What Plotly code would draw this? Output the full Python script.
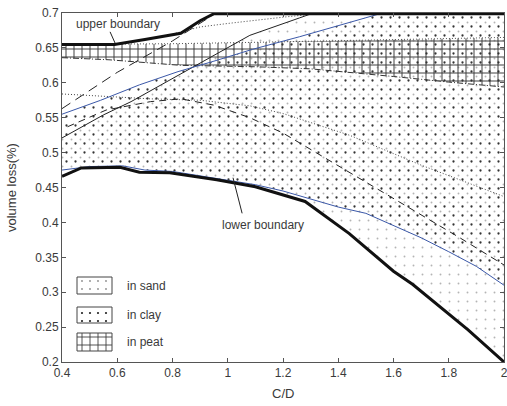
import plotly.graph_objects as go

# ---------------- data ----------------
lower_x = [0.4, 0.47, 0.61, 0.68, 0.79, 0.96, 1.1, 1.28, 1.44, 1.6, 1.67, 1.87, 2.0]
lower_y = [0.466, 0.478, 0.479, 0.472, 0.471, 0.461, 0.451, 0.43, 0.384, 0.33, 0.311, 0.246, 0.2]

upper_x = [0.4, 0.59, 0.7, 0.83, 0.9, 0.95, 2.0]
upper_y = [0.655, 0.655, 0.662, 0.671, 0.689, 0.699, 0.699]

sand_max_x = [0.4, 0.55, 0.65, 0.9, 1.08, 1.26, 1.31, 2.0]
sand_max_y = [0.521, 0.554, 0.573, 0.628, 0.668, 0.693, 0.7, 0.7]

clay_min_x = [0.4, 0.5, 0.62, 0.7, 0.8, 0.95, 1.1, 1.2, 1.3, 1.4, 1.5, 1.6, 1.7, 1.8, 1.9, 2.0]
clay_min_y = [0.475, 0.48, 0.481, 0.475, 0.473, 0.464, 0.454, 0.445, 0.434, 0.422, 0.413, 0.395, 0.378, 0.358, 0.337, 0.31]

clay_max_x = [0.4, 0.54, 0.68, 0.82, 0.95, 1.09, 1.26, 1.44, 1.56, 2.0]
clay_max_y = [0.555, 0.575, 0.597, 0.616, 0.631, 0.648, 0.666, 0.687, 0.7, 0.7]

peat_min_x = [0.4, 0.57, 0.83, 1.1, 1.3, 1.45, 1.6, 1.8, 2.0]
peat_min_y = [0.636, 0.633, 0.625, 0.623, 0.62, 0.615, 0.609, 0.601, 0.594]
peat_max_x = [0.4, 0.8, 1.1, 1.5, 2.0]
peat_max_y = [0.655, 0.656, 0.658, 0.661, 0.665]

longdash_x = [0.4, 0.6, 0.8, 0.95]
longdash_y = [0.563, 0.615, 0.66, 0.698]

dash_x = [0.42, 0.56, 0.72, 0.83, 0.95, 1.08, 1.2, 1.44, 1.6, 1.84, 2.0]
dash_y = [0.537, 0.561, 0.573, 0.577, 0.568, 0.55, 0.528, 0.472, 0.434, 0.378, 0.339]

dot_x = [0.4, 0.57, 0.72, 0.9, 1.08, 1.2, 1.44, 1.7, 2.0]
dot_y = [0.584, 0.58, 0.577, 0.575, 0.567, 0.556, 0.525, 0.482, 0.437]

topdot_x = [0.78, 0.9, 1.0, 1.1, 1.2, 1.3, 1.4]
topdot_y = [0.668, 0.68, 0.685, 0.69, 0.694, 0.698, 0.7]

x_tick_vals = [0.4, 0.6, 0.8, 1.0, 1.2, 1.4, 1.6, 1.8, 2.0]
x_tick_text = ["0.4", "0.6", "0.8", "1", "1.2", "1.4", "1.6", "1.8", "2"]
y_tick_vals = [0.2, 0.25, 0.3, 0.35, 0.4, 0.45, 0.5, 0.55, 0.6, 0.65, 0.7]
y_tick_text = ["0.2", "0.25", "0.3", "0.35", "0.4", "0.45", "0.5", "0.55", "0.6", "0.65", "0.7"]

legend_labels = ["in sand", "in clay", "in peat"]

# ---------------- layout geometry ----------------
W, H = 507, 406
ML, MR, MT, MB = 58, 3, 9, 44
GW, GH = W - ML - MR, H - MT - MB
SHIFT = 4  # pattern offset (px) between sand and clay dots
PX_X = (GW - SHIFT) / 1.6
PX_Y = (GH - SHIFT) / 0.5

FONT = "Liberation Sans"
TXT = "#3a3a3a"
AX = "#555555"
BLUE = "#3b58a8"

fig = go.Figure()

# sand band (own subplot so its dot grid is offset from clay dots)
fig.add_trace(go.Scatter(
    x=lower_x + sand_max_x[::-1], y=lower_y + sand_max_y[::-1],
    fill="toself", mode="none", fillcolor="rgba(0,0,0,0)",
    fillpattern=dict(shape=".", size=9, solidity=0.035, fgcolor="#b4b4b4",
                     bgcolor="rgba(0,0,0,0)", fillmode="replace"),
    xaxis="x", yaxis="y", hoverinfo="skip", showlegend=False))

# clay band
fig.add_trace(go.Scatter(
    x=clay_min_x + clay_max_x[::-1], y=clay_min_y + clay_max_y[::-1],
    fill="toself", mode="none", fillcolor="rgba(0,0,0,0)",
    fillpattern=dict(shape=".", size=9, solidity=0.05, fgcolor="#333333",
                     bgcolor="rgba(0,0,0,0)", fillmode="replace"),
    xaxis="x2", yaxis="y2", hoverinfo="skip", showlegend=False))

# peat band
fig.add_trace(go.Scatter(
    x=peat_min_x + peat_max_x[::-1], y=peat_min_y + peat_max_y[::-1],
    fill="toself", mode="none", fillcolor="rgba(0,0,0,0)",
    fillpattern=dict(shape="+", size=8, solidity=0.22, fgcolor="#333333",
                     bgcolor="rgba(0,0,0,0)", fillmode="replace"),
    xaxis="x2", yaxis="y2", hoverinfo="skip", showlegend=False))


def line(x, y, color="#222222", width=1, dash="solid"):
    fig.add_trace(go.Scatter(x=x, y=y, mode="lines",
                             line=dict(color=color, width=width, dash=dash),
                             xaxis="x2", yaxis="y2", hoverinfo="skip",
                             showlegend=False))


line(peat_min_x, peat_min_y, "#333333", 1, "6px,2px,1px,2px")
line(peat_max_x, peat_max_y, "#555555", 1, "1px,2px")
line(dot_x, dot_y, "#444444", 1, "1px,2px")
line(topdot_x, topdot_y, "#444444", 1, "1px,2px")
line(dash_x, dash_y, "#222222", 1, "7px,5px")
line(longdash_x, longdash_y, "#222222", 1, "10px,6px")
line(sand_max_x, sand_max_y, "#222222", 1)
line(clay_max_x, clay_max_y, BLUE, 1)
line(clay_min_x, clay_min_y, BLUE, 1)
line(lower_x, lower_y, "#111111", 3)
line(upper_x, upper_y, "#111111", 3)

# ---------------- legend boxes (pixel coordinate overlay) ----------------
box_x0, box_x1 = 77, 112
box_rows = [(277, 294), (307, 323), (333, 351)]
box_patterns = [
    dict(shape=".", size=8, solidity=0.04, fgcolor="#8a8a8a"),
    dict(shape=".", size=8, solidity=0.06, fgcolor="#222222"),
    dict(shape="+", size=8, solidity=0.2, fgcolor="#333333"),
]
for (y0, y1), pat, lab in zip(box_rows, box_patterns, legend_labels):
    pat = dict(pat, bgcolor="rgba(0,0,0,0)", fillmode="replace")
    fig.add_trace(go.Scatter(
        x=[box_x0, box_x1, box_x1, box_x0, box_x0],
        y=[y0, y0, y1, y1, y0],
        fill="toself", mode="lines", fillcolor="rgba(0,0,0,0)",
        fillpattern=pat, line=dict(color="#444444", width=1),
        xaxis="x3", yaxis="y3", hoverinfo="skip", showlegend=False))
    fig.add_annotation(x=125, y=(y0 + y1) / 2, xref="x3", yref="y3",
                       text=lab, showarrow=False, xanchor="left",
                       font=dict(family=FONT, size=12, color=TXT))

# ---------------- annotations ----------------
fig.add_annotation(x=0.603, y=0.684, xref="x2", yref="y2", text="upper boundary",
                   showarrow=False, font=dict(family=FONT, size=12, color=TXT))
fig.add_annotation(x=1.128, y=0.396, xref="x2", yref="y2", text="lower boundary",
                   showarrow=False, font=dict(family=FONT, size=12, color=TXT))
fig.add_shape(type="line", xref="x2", yref="y2", x0=0.574, y0=0.673, x1=0.592, y1=0.657,
              line=dict(color="#222222", width=1))
fig.add_shape(type="line", xref="x2", yref="y2", x0=1.019, y0=0.464, x1=1.052, y1=0.413,
              line=dict(color="#222222", width=1))

# axis titles as paper-positioned text
fig.add_annotation(x=(283 - ML) / GW, y=(H - MB - 393) / GH, xref="paper", yref="paper",
                   text="C/D", showarrow=False, xanchor="center", yanchor="middle",
                   font=dict(family=FONT, size=13, color=TXT))
fig.add_annotation(x=(12 - ML) / GW, y=(H - MB - 188) / GH, xref="paper", yref="paper",
                   text="volume loss(%)", showarrow=False, textangle=-90,
                   xanchor="center", yanchor="middle",
                   font=dict(family=FONT, size=13, color=TXT))

main_xdom = [SHIFT / GW, 1]
main_ydom = [0, (GH - SHIFT) / GH]

fig.update_layout(
    width=W, height=H,
    margin=dict(l=ML, r=MR, t=MT, b=MB, autoexpand=False),
    paper_bgcolor="white", plot_bgcolor="rgba(0,0,0,0)",
    showlegend=False,
    xaxis=dict(domain=[0, 1], range=[0.4 - SHIFT / PX_X, 2.0], visible=False,
               anchor="y", fixedrange=True),
    yaxis=dict(domain=[0, 1], range=[0.2, 0.7 + SHIFT / PX_Y], visible=False,
               anchor="x", fixedrange=True),
    xaxis2=dict(domain=main_xdom, range=[0.4, 2.0], anchor="y2",
                tickvals=x_tick_vals, ticktext=x_tick_text,
                ticks="inside", ticklen=4, tickcolor=AX, mirror="ticks",
                showline=True, linecolor=AX, linewidth=1, showgrid=False,
                zeroline=False, automargin=False, ticklabeloverflow="allow",
                tickfont=dict(family=FONT, size=12, color=TXT)),
    yaxis2=dict(domain=main_ydom, range=[0.2, 0.7], anchor="x2",
                tickvals=y_tick_vals, ticktext=y_tick_text,
                ticks="inside", ticklen=4, tickcolor=AX, mirror="ticks",
                showline=True, linecolor=AX, linewidth=1, showgrid=False,
                zeroline=False, automargin=False, ticklabeloverflow="allow",
                tickfont=dict(family=FONT, size=12, color=TXT)),
    xaxis3=dict(domain=main_xdom, range=[62, 504], visible=False, anchor="y3",
                fixedrange=True),
    yaxis3=dict(domain=main_ydom, range=[362, 13], visible=False, anchor="x3",
                fixedrange=True),
)

fig.write_html("out.html", config={"displayModeBar": False, "staticPlot": True},
               post_script="document.body.style.margin='0';")
